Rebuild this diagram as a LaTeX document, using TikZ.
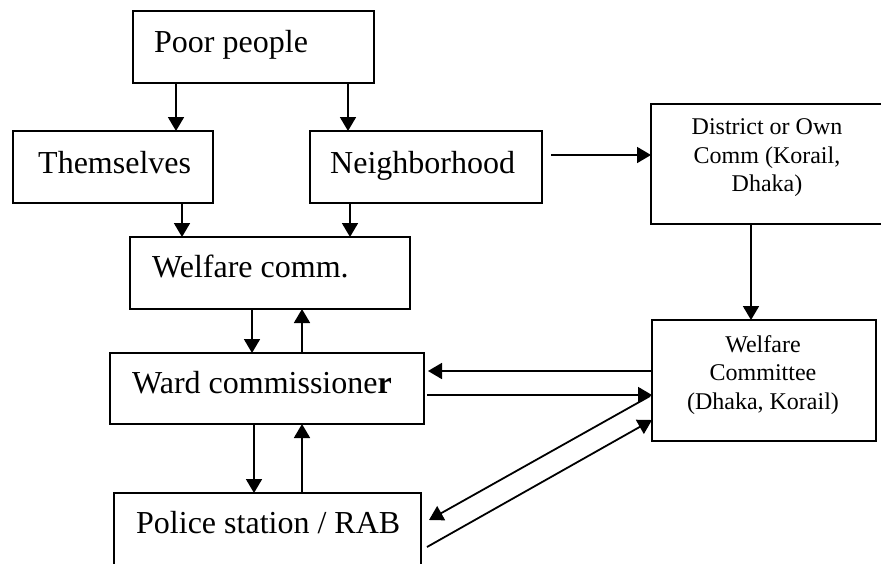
\documentclass[tikz,border=0pt]{standalone}
\usepackage{fontspec}
\setmainfont{Liberation Serif}
\usetikzlibrary{arrows.meta}

\tikzset{
  box/.style={draw, line width=1.8pt, rectangle, inner sep=0pt, outer sep=0pt},
  bigtxt/.style={inner sep=0pt, anchor=base west, font=\fontsize{32}{38}\selectfont},
  smalltxt/.style={inner sep=0pt, align=center, font=\fontsize{24}{28.5}\selectfont},
  arr/.style={line width=1.8pt, -{Triangle[length=14pt,width=16pt]}},
}

\begin{document}
\begin{tikzpicture}[x=1pt, y=-1pt]
  \clip (0,0) rectangle (881,563);
  \fill[white] (0,0) rectangle (881,563);

  % boxes
  \node[box, minimum width=241pt, minimum height=72pt]  (poor)   at (253.5,47)  {};
  \node[box, minimum width=200pt, minimum height=72pt]  (them)   at (113,167)   {};
  \node[box, minimum width=232pt, minimum height=72pt]  (neigh)  at (426,167)   {};
  \node[box, minimum width=231pt, minimum height=120pt] (dist)   at (766.5,164) {};
  \node[box, minimum width=280pt, minimum height=72pt]  (wcomm)  at (270,273)   {};
  \node[box, minimum width=314pt, minimum height=71pt]  (ward)   at (267,388.5) {};
  \node[box, minimum width=224pt, minimum height=121pt] (wcte)   at (764,380.5) {};
  \node[box, minimum width=307pt, minimum height=97pt]  (police) at (267.5,541.5) {};

  % labels
  \node[bigtxt] (poorT)   at (154,52)  {Poor people};
  \node[bigtxt] (themT)   at (38,173)  {Themselves};
  \node[bigtxt] (neighT)  at (330,173) {Neighborhood};
  \node[bigtxt] (wcommT)  at (152,277) {Welfare comm.};
  \node[bigtxt] (wardT)   at (132,393) {Ward commissione\textbf{r}};
  \node[bigtxt] (policeT) at (136,533) {Police station / RAB};
  \node[smalltxt] (distT) at (767,158) {District or Own\\Comm (Korail,\\Dhaka)};
  \node[smalltxt] (wcteT) at (763,375) {Welfare\\Committee\\(Dhaka, Korail)};

  % connector anchors
  \coordinate (p1) at ([xshift=-77.5pt]poor.south);
  \coordinate (p2) at ([xshift=94.5pt]poor.south);
  \coordinate (t1) at ([xshift=69pt]them.south);
  \coordinate (n1) at ([xshift=-76pt]neigh.south);
  \coordinate (n2) at ([yshift=12pt]neigh.east);
  \coordinate (d1) at ([xshift=-15.5pt]dist.south);
  \coordinate (w1) at ([xshift=-18pt]wcomm.south);
  \coordinate (r1) at ([xshift=35pt]ward.north);
  \coordinate (c1) at ([yshift=9.5pt]wcte.west);
  \coordinate (r2) at ([yshift=-6.5pt]ward.east);
  \coordinate (c2) at ([xshift=-2pt,yshift=-15.5pt]wcte.west);
  \coordinate (s1) at ([xshift=8pt,yshift=21.5pt]police.east);
  \coordinate (s2) at ([xshift=6pt,yshift=-5.5pt]police.east);
  \coordinate (c3) at ([yshift=-39.5pt]wcte.west);
  \coordinate (r3) at ([xshift=-13pt]ward.south);
  \coordinate (s3) at ([xshift=34.5pt]police.north);

  % connectors
  \draw[arr] (p1) -- (p1 |- them.north);
  \draw[arr] (p2) -- (p2 |- neigh.north);
  \draw[arr] (t1) -- (t1 |- wcomm.north);
  \draw[arr] (n1) -- (n1 |- wcomm.north);
  \draw[arr, shorten <=9pt] (n2) -- (n2 -| dist.west);
  \draw[arr] (d1) -- (d1 |- wcte.north);
  \draw[arr] (w1) -- (w1 |- ward.north);
  \draw[arr] (r1) -- (r1 |- wcomm.south);
  \draw[arr, shorten >=4pt] (c1) -- (c1 -| ward.east);
  \draw[arr, shorten <=3pt] (r2) -- (r2 -| wcte.west);
  \draw[arr] (c2) -- (s1);
  \draw[arr] (s2) -- (c3);
  \draw[arr] (r3) -- (r3 |- police.north);
  \draw[arr] (s3) -- (s3 |- ward.south);
\end{tikzpicture}
\end{document}
